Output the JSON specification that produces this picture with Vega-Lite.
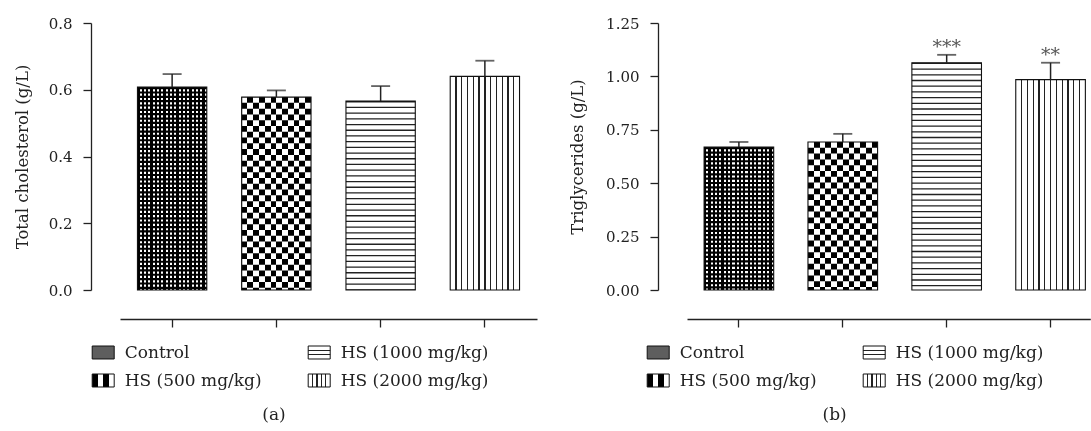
{
  "$schema": "https://vega.github.io/schema/vega-lite/v6.json",
  "padding": {"left": 14, "top": 16, "right": 0, "bottom": 0},
  "config": {
    "font": "DejaVu Serif",
    "view": {"stroke": null},
    "axis": {"labelFont": "DejaVu Serif", "titleFont": "DejaVu Serif", "labelColor": "#222", "titleColor": "#222", "domainColor": "#222", "tickColor": "#222", "domainWidth": 1.3, "tickWidth": 1.3, "tickSize": 8, "grid": false, "labelFontSize": 15, "titleFontSize": 16.5, "titleFontWeight": "normal"},
    "legend": {"labelFont": "DejaVu Serif", "labelFontSize": 17, "labelColor": "#222"},
    "title": {"font": "DejaVu Serif", "fontSize": 17, "fontWeight": "normal", "color": "#222"}
  },
  "datasets": {
    "tc": [
      {"group": "Control", "mean": 0.608, "upper": 0.647, "sig": ""},
      {"group": "HS (500 mg/kg)", "mean": 0.578, "upper": 0.598, "sig": ""},
      {"group": "HS (1000 mg/kg)", "mean": 0.566, "upper": 0.611, "sig": ""},
      {"group": "HS (2000 mg/kg)", "mean": 0.640, "upper": 0.687, "sig": ""}
    ],
    "tg": [
      {"group": "Control", "mean": 0.669, "upper": 0.693, "sig": ""},
      {"group": "HS (500 mg/kg)", "mean": 0.693, "upper": 0.731, "sig": ""},
      {"group": "HS (1000 mg/kg)", "mean": 1.064, "upper": 1.101, "sig": "***"},
      {"group": "HS (2000 mg/kg)", "mean": 0.985, "upper": 1.064, "sig": "**"}
    ]
  },
  "spacing": 32,
  "resolve": {"scale": {"fill": "independent", "x": "independent", "y": "independent"}, "legend": {"fill": "independent"}},
  "hconcat": [
    {
      "data": {"name": "tc"},
      "width": 417,
      "height": 267,
      "title": {"text": "(a)", "orient": "bottom", "anchor": "middle", "dx": -54.5, "offset": 18},
      "encoding": {
        "x": {"field": "group", "type": "nominal", "title": null, "sort": ["Control", "HS (500 mg/kg)", "HS (1000 mg/kg)", "HS (2000 mg/kg)"], "scale": {"paddingInner": 0.335, "paddingOuter": 0.1675}, "axis": {"labels": false, "title": null, "offset": 29, "ticks": true, "domain": true}},
        "y": {"field": "mean", "type": "quantitative", "title": "Total cholesterol (g/L)", "scale": {"domain": [0, 0.8], "nice": false, "zero": true}, "axis": {"values": [0, 0.2, 0.4, 0.6, 0.8], "format": ".1f", "offset": 29, "labelPadding": 11, "titlePadding": 18}}
      },
      "layer": [
        {
          "mark": {"type": "bar", "strokeWidth": 0},
          "encoding": {
            "fill": {
              "field": "group", "type": "nominal",
              "scale": {
                "domain": ["Control", "HS (500 mg/kg)", "HS (1000 mg/kg)", "HS (2000 mg/kg)"],
                "range": [
                  "#5e5e5e",
                  {"expr": "{gradient:'linear',stops:[{offset:0,color:'#000'},{offset:0.25,color:'#000'},{offset:0.25,color:'#fff'},{offset:0.5,color:'#fff'},{offset:0.5,color:'#000'},{offset:0.75,color:'#000'},{offset:0.75,color:'#fff'},{offset:1,color:'#fff'}]}"},
                  {"expr": "{gradient:'linear',x1:0,y1:0,x2:0,y2:1,stops:[{offset:0,color:'#fff'},{offset:0.3,color:'#fff'},{offset:0.3,color:'#222'},{offset:0.4,color:'#222'},{offset:0.4,color:'#fff'},{offset:0.6,color:'#fff'},{offset:0.6,color:'#222'},{offset:0.7,color:'#222'},{offset:0.7,color:'#fff'},{offset:1,color:'#fff'}]}"},
                  {"expr": "{gradient:'linear',stops:[{offset:0,color:'#fff'},{offset:0.17,color:'#fff'},{offset:0.17,color:'#222'},{offset:0.23,color:'#222'},{offset:0.23,color:'#fff'},{offset:0.37,color:'#fff'},{offset:0.37,color:'#222'},{offset:0.43,color:'#222'},{offset:0.43,color:'#fff'},{offset:0.57,color:'#fff'},{offset:0.57,color:'#222'},{offset:0.63,color:'#222'},{offset:0.63,color:'#fff'},{offset:0.77,color:'#fff'},{offset:0.77,color:'#222'},{offset:0.83,color:'#222'},{offset:0.83,color:'#fff'},{offset:1,color:'#fff'}]}"}
                ]
              },
              "legend": {
                "orient": "none", "legendX": -28.3, "legendY": 318, "columns": 2, "title": null,
                "symbolType": "M-1,-0.59H1V0.59H-1Z", "symbolSize": 484, "labelFontSize": 17, "labelOffset": 10,
                "columnPadding": 44, "rowPadding": 8, "padding": 0, "labelLimit": 400,
                "symbolStrokeColor": "#111", "symbolStrokeWidth": 1
              }
            }
          }
        },
        {"transform": [{"filter": "datum.group === 'Control'"}], "mark": {"type": "bar", "strokeWidth": 0, "fill": {"expr": "{gradient:'linear',stops:[{offset:0,color:'#000'},{offset:0.03125,color:'#000'},{offset:0.03125,color:'#fff'},{offset:0.0625,color:'#fff'},{offset:0.0625,color:'#000'},{offset:0.09375,color:'#000'},{offset:0.09375,color:'#fff'},{offset:0.125,color:'#fff'},{offset:0.125,color:'#000'},{offset:0.15625,color:'#000'},{offset:0.15625,color:'#fff'},{offset:0.1875,color:'#fff'},{offset:0.1875,color:'#000'},{offset:0.21875,color:'#000'},{offset:0.21875,color:'#fff'},{offset:0.25,color:'#fff'},{offset:0.25,color:'#000'},{offset:0.28125,color:'#000'},{offset:0.28125,color:'#fff'},{offset:0.3125,color:'#fff'},{offset:0.3125,color:'#000'},{offset:0.34375,color:'#000'},{offset:0.34375,color:'#fff'},{offset:0.375,color:'#fff'},{offset:0.375,color:'#000'},{offset:0.40625,color:'#000'},{offset:0.40625,color:'#fff'},{offset:0.4375,color:'#fff'},{offset:0.4375,color:'#000'},{offset:0.46875,color:'#000'},{offset:0.46875,color:'#fff'},{offset:0.5,color:'#fff'},{offset:0.5,color:'#000'},{offset:0.53125,color:'#000'},{offset:0.53125,color:'#fff'},{offset:0.5625,color:'#fff'},{offset:0.5625,color:'#000'},{offset:0.59375,color:'#000'},{offset:0.59375,color:'#fff'},{offset:0.625,color:'#fff'},{offset:0.625,color:'#000'},{offset:0.65625,color:'#000'},{offset:0.65625,color:'#fff'},{offset:0.6875,color:'#fff'},{offset:0.6875,color:'#000'},{offset:0.71875,color:'#000'},{offset:0.71875,color:'#fff'},{offset:0.75,color:'#fff'},{offset:0.75,color:'#000'},{offset:0.78125,color:'#000'},{offset:0.78125,color:'#fff'},{offset:0.8125,color:'#fff'},{offset:0.8125,color:'#000'},{offset:0.84375,color:'#000'},{offset:0.84375,color:'#fff'},{offset:0.875,color:'#fff'},{offset:0.875,color:'#000'},{offset:0.90625,color:'#000'},{offset:0.90625,color:'#fff'},{offset:0.9375,color:'#fff'},{offset:0.9375,color:'#000'},{offset:0.96875,color:'#000'},{offset:0.96875,color:'#fff'},{offset:1,color:'#fff'}]}"}}},
        {"transform": [{"filter": "datum.group === 'HS (500 mg/kg)'"}], "mark": {"type": "bar", "strokeWidth": 0, "fill": {"expr": "{gradient:'linear',stops:[{offset:0,color:'#000'},{offset:0.08333,color:'#000'},{offset:0.08333,color:'#fff'},{offset:0.16667,color:'#fff'},{offset:0.16667,color:'#000'},{offset:0.25,color:'#000'},{offset:0.25,color:'#fff'},{offset:0.33333,color:'#fff'},{offset:0.33333,color:'#000'},{offset:0.41667,color:'#000'},{offset:0.41667,color:'#fff'},{offset:0.5,color:'#fff'},{offset:0.5,color:'#000'},{offset:0.58333,color:'#000'},{offset:0.58333,color:'#fff'},{offset:0.66667,color:'#fff'},{offset:0.66667,color:'#000'},{offset:0.75,color:'#000'},{offset:0.75,color:'#fff'},{offset:0.83333,color:'#fff'},{offset:0.83333,color:'#000'},{offset:0.91667,color:'#000'},{offset:0.91667,color:'#fff'},{offset:1,color:'#fff'}]}"}}},
        {"transform": [{"filter": "datum.group === 'HS (1000 mg/kg)'"}], "mark": {"type": "bar", "strokeWidth": 0, "fill": "#fff"}},
        {"transform": [{"filter": "datum.group === 'HS (2000 mg/kg)'"}], "mark": {"type": "bar", "strokeWidth": 0, "fill": {"expr": "{gradient:'linear',stops:[{offset:0,color:'#fff'},{offset:0.0738,color:'#fff'},{offset:0.0738,color:'#222'},{offset:0.0928,color:'#222'},{offset:0.0928,color:'#fff'},{offset:0.1572,color:'#fff'},{offset:0.1572,color:'#222'},{offset:0.1762,color:'#222'},{offset:0.1762,color:'#fff'},{offset:0.2405,color:'#fff'},{offset:0.2405,color:'#222'},{offset:0.2595,color:'#222'},{offset:0.2595,color:'#fff'},{offset:0.3238,color:'#fff'},{offset:0.3238,color:'#222'},{offset:0.3428,color:'#222'},{offset:0.3428,color:'#fff'},{offset:0.4072,color:'#fff'},{offset:0.4072,color:'#222'},{offset:0.4262,color:'#222'},{offset:0.4262,color:'#fff'},{offset:0.4905,color:'#fff'},{offset:0.4905,color:'#222'},{offset:0.5095,color:'#222'},{offset:0.5095,color:'#fff'},{offset:0.5738,color:'#fff'},{offset:0.5738,color:'#222'},{offset:0.5928,color:'#222'},{offset:0.5928,color:'#fff'},{offset:0.6572,color:'#fff'},{offset:0.6572,color:'#222'},{offset:0.6762,color:'#222'},{offset:0.6762,color:'#fff'},{offset:0.7405,color:'#fff'},{offset:0.7405,color:'#222'},{offset:0.7595,color:'#222'},{offset:0.7595,color:'#fff'},{offset:0.8238,color:'#fff'},{offset:0.8238,color:'#222'},{offset:0.8428,color:'#222'},{offset:0.8428,color:'#fff'},{offset:0.9072,color:'#fff'},{offset:0.9072,color:'#222'},{offset:0.9262,color:'#222'},{offset:0.9262,color:'#fff'},{offset:1,color:'#fff'}]}"}}},
        {"transform": [{"filter": "datum.group === 'Control'"}], "mark": {"type": "rule", "strokeWidth": 69.33, "strokeDash": [2.17, 2.17], "color": "#000"}, "encoding": {"y2": {"datum": 0}}},
        {"transform": [{"filter": "datum.group === 'HS (500 mg/kg)'"}], "mark": {"type": "rule", "strokeWidth": 69.33, "strokeDash": [5.78, 5.78], "color": "#fff", "blend": "difference"}, "encoding": {"y2": {"datum": 0}}},
        {"transform": [{"filter": "datum.group === 'HS (1000 mg/kg)'"}], "mark": {"type": "rule", "strokeWidth": 69.33, "strokeDash": [1.3, 4.4], "color": "#222"}, "encoding": {"y2": {"datum": 0}}},
        {"mark": {"type": "bar", "fill": "transparent", "stroke": "#111", "strokeWidth": 1.1}},
        {"mark": {"type": "rule", "color": "#222", "strokeWidth": 1.5}, "encoding": {"y2": {"field": "upper"}}},
        {"mark": {"type": "tick", "size": 19, "thickness": 1.8, "color": "#222", "orient": "horizontal"}, "encoding": {"y": {"field": "upper", "type": "quantitative", "title": "Total cholesterol (g/L)"}}}
      ]
    },
    {
      "data": {"name": "tg"},
      "width": 403.3,
      "height": 267,
      "title": {"text": "(b)", "orient": "bottom", "anchor": "middle", "dx": -54, "offset": 18},
      "encoding": {
        "x": {"field": "group", "type": "nominal", "title": null, "sort": ["Control", "HS (500 mg/kg)", "HS (1000 mg/kg)", "HS (2000 mg/kg)"], "scale": {"paddingInner": 0.33, "paddingOuter": 0.106, "align": 0.776}, "axis": {"labels": false, "title": null, "offset": 29, "ticks": true, "domain": true}},
        "y": {"field": "mean", "type": "quantitative", "title": "Triglycerides (g/L)", "scale": {"domain": [0, 1.25], "nice": false, "zero": true}, "axis": {"values": [0, 0.25, 0.5, 0.75, 1, 1.25], "format": ".2f", "offset": 29, "labelPadding": 11, "titlePadding": 20}}
      },
      "layer": [
        {
          "mark": {"type": "bar", "strokeWidth": 0},
          "encoding": {
            "fill": {
              "field": "group", "type": "nominal",
              "scale": {
                "domain": ["Control", "HS (500 mg/kg)", "HS (1000 mg/kg)", "HS (2000 mg/kg)"],
                "range": [
                  "#5e5e5e",
                  {"expr": "{gradient:'linear',stops:[{offset:0,color:'#000'},{offset:0.25,color:'#000'},{offset:0.25,color:'#fff'},{offset:0.5,color:'#fff'},{offset:0.5,color:'#000'},{offset:0.75,color:'#000'},{offset:0.75,color:'#fff'},{offset:1,color:'#fff'}]}"},
                  {"expr": "{gradient:'linear',x1:0,y1:0,x2:0,y2:1,stops:[{offset:0,color:'#fff'},{offset:0.3,color:'#fff'},{offset:0.3,color:'#222'},{offset:0.4,color:'#222'},{offset:0.4,color:'#fff'},{offset:0.6,color:'#fff'},{offset:0.6,color:'#222'},{offset:0.7,color:'#222'},{offset:0.7,color:'#fff'},{offset:1,color:'#fff'}]}"},
                  {"expr": "{gradient:'linear',stops:[{offset:0,color:'#fff'},{offset:0.17,color:'#fff'},{offset:0.17,color:'#222'},{offset:0.23,color:'#222'},{offset:0.23,color:'#fff'},{offset:0.37,color:'#fff'},{offset:0.37,color:'#222'},{offset:0.43,color:'#222'},{offset:0.43,color:'#fff'},{offset:0.57,color:'#fff'},{offset:0.57,color:'#222'},{offset:0.63,color:'#222'},{offset:0.63,color:'#fff'},{offset:0.77,color:'#fff'},{offset:0.77,color:'#222'},{offset:0.83,color:'#222'},{offset:0.83,color:'#fff'},{offset:1,color:'#fff'}]}"}
                ]
              },
              "legend": {
                "orient": "none", "legendX": -40.3, "legendY": 318, "columns": 2, "title": null,
                "symbolType": "M-1,-0.59H1V0.59H-1Z", "symbolSize": 484, "labelFontSize": 17, "labelOffset": 10,
                "columnPadding": 44, "rowPadding": 8, "padding": 0, "labelLimit": 400,
                "symbolStrokeColor": "#111", "symbolStrokeWidth": 1
              }
            }
          }
        },
        {"transform": [{"filter": "datum.group === 'Control'"}], "mark": {"type": "bar", "strokeWidth": 0, "fill": {"expr": "{gradient:'linear',stops:[{offset:0,color:'#000'},{offset:0.03125,color:'#000'},{offset:0.03125,color:'#fff'},{offset:0.0625,color:'#fff'},{offset:0.0625,color:'#000'},{offset:0.09375,color:'#000'},{offset:0.09375,color:'#fff'},{offset:0.125,color:'#fff'},{offset:0.125,color:'#000'},{offset:0.15625,color:'#000'},{offset:0.15625,color:'#fff'},{offset:0.1875,color:'#fff'},{offset:0.1875,color:'#000'},{offset:0.21875,color:'#000'},{offset:0.21875,color:'#fff'},{offset:0.25,color:'#fff'},{offset:0.25,color:'#000'},{offset:0.28125,color:'#000'},{offset:0.28125,color:'#fff'},{offset:0.3125,color:'#fff'},{offset:0.3125,color:'#000'},{offset:0.34375,color:'#000'},{offset:0.34375,color:'#fff'},{offset:0.375,color:'#fff'},{offset:0.375,color:'#000'},{offset:0.40625,color:'#000'},{offset:0.40625,color:'#fff'},{offset:0.4375,color:'#fff'},{offset:0.4375,color:'#000'},{offset:0.46875,color:'#000'},{offset:0.46875,color:'#fff'},{offset:0.5,color:'#fff'},{offset:0.5,color:'#000'},{offset:0.53125,color:'#000'},{offset:0.53125,color:'#fff'},{offset:0.5625,color:'#fff'},{offset:0.5625,color:'#000'},{offset:0.59375,color:'#000'},{offset:0.59375,color:'#fff'},{offset:0.625,color:'#fff'},{offset:0.625,color:'#000'},{offset:0.65625,color:'#000'},{offset:0.65625,color:'#fff'},{offset:0.6875,color:'#fff'},{offset:0.6875,color:'#000'},{offset:0.71875,color:'#000'},{offset:0.71875,color:'#fff'},{offset:0.75,color:'#fff'},{offset:0.75,color:'#000'},{offset:0.78125,color:'#000'},{offset:0.78125,color:'#fff'},{offset:0.8125,color:'#fff'},{offset:0.8125,color:'#000'},{offset:0.84375,color:'#000'},{offset:0.84375,color:'#fff'},{offset:0.875,color:'#fff'},{offset:0.875,color:'#000'},{offset:0.90625,color:'#000'},{offset:0.90625,color:'#fff'},{offset:0.9375,color:'#fff'},{offset:0.9375,color:'#000'},{offset:0.96875,color:'#000'},{offset:0.96875,color:'#fff'},{offset:1,color:'#fff'}]}"}}},
        {"transform": [{"filter": "datum.group === 'HS (500 mg/kg)'"}], "mark": {"type": "bar", "strokeWidth": 0, "fill": {"expr": "{gradient:'linear',stops:[{offset:0,color:'#000'},{offset:0.08333,color:'#000'},{offset:0.08333,color:'#fff'},{offset:0.16667,color:'#fff'},{offset:0.16667,color:'#000'},{offset:0.25,color:'#000'},{offset:0.25,color:'#fff'},{offset:0.33333,color:'#fff'},{offset:0.33333,color:'#000'},{offset:0.41667,color:'#000'},{offset:0.41667,color:'#fff'},{offset:0.5,color:'#fff'},{offset:0.5,color:'#000'},{offset:0.58333,color:'#000'},{offset:0.58333,color:'#fff'},{offset:0.66667,color:'#fff'},{offset:0.66667,color:'#000'},{offset:0.75,color:'#000'},{offset:0.75,color:'#fff'},{offset:0.83333,color:'#fff'},{offset:0.83333,color:'#000'},{offset:0.91667,color:'#000'},{offset:0.91667,color:'#fff'},{offset:1,color:'#fff'}]}"}}},
        {"transform": [{"filter": "datum.group === 'HS (1000 mg/kg)'"}], "mark": {"type": "bar", "strokeWidth": 0, "fill": "#fff"}},
        {"transform": [{"filter": "datum.group === 'HS (2000 mg/kg)'"}], "mark": {"type": "bar", "strokeWidth": 0, "fill": {"expr": "{gradient:'linear',stops:[{offset:0,color:'#fff'},{offset:0.0738,color:'#fff'},{offset:0.0738,color:'#222'},{offset:0.0928,color:'#222'},{offset:0.0928,color:'#fff'},{offset:0.1572,color:'#fff'},{offset:0.1572,color:'#222'},{offset:0.1762,color:'#222'},{offset:0.1762,color:'#fff'},{offset:0.2405,color:'#fff'},{offset:0.2405,color:'#222'},{offset:0.2595,color:'#222'},{offset:0.2595,color:'#fff'},{offset:0.3238,color:'#fff'},{offset:0.3238,color:'#222'},{offset:0.3428,color:'#222'},{offset:0.3428,color:'#fff'},{offset:0.4072,color:'#fff'},{offset:0.4072,color:'#222'},{offset:0.4262,color:'#222'},{offset:0.4262,color:'#fff'},{offset:0.4905,color:'#fff'},{offset:0.4905,color:'#222'},{offset:0.5095,color:'#222'},{offset:0.5095,color:'#fff'},{offset:0.5738,color:'#fff'},{offset:0.5738,color:'#222'},{offset:0.5928,color:'#222'},{offset:0.5928,color:'#fff'},{offset:0.6572,color:'#fff'},{offset:0.6572,color:'#222'},{offset:0.6762,color:'#222'},{offset:0.6762,color:'#fff'},{offset:0.7405,color:'#fff'},{offset:0.7405,color:'#222'},{offset:0.7595,color:'#222'},{offset:0.7595,color:'#fff'},{offset:0.8238,color:'#fff'},{offset:0.8238,color:'#222'},{offset:0.8428,color:'#222'},{offset:0.8428,color:'#fff'},{offset:0.9072,color:'#fff'},{offset:0.9072,color:'#222'},{offset:0.9262,color:'#222'},{offset:0.9262,color:'#fff'},{offset:1,color:'#fff'}]}"}}},
        {"transform": [{"filter": "datum.group === 'Control'"}], "mark": {"type": "rule", "strokeWidth": 69.6, "strokeDash": [2.175, 2.175], "color": "#000"}, "encoding": {"y2": {"datum": 0}}},
        {"transform": [{"filter": "datum.group === 'HS (500 mg/kg)'"}], "mark": {"type": "rule", "strokeWidth": 69.6, "strokeDash": [5.8, 5.8], "color": "#fff", "blend": "difference"}, "encoding": {"y2": {"datum": 0}}},
        {"transform": [{"filter": "datum.group === 'HS (1000 mg/kg)'"}], "mark": {"type": "rule", "strokeWidth": 69.6, "strokeDash": [1.3, 4.4], "color": "#222"}, "encoding": {"y2": {"datum": 0}}},
        {"mark": {"type": "bar", "fill": "transparent", "stroke": "#111", "strokeWidth": 1.1}},
        {"mark": {"type": "rule", "color": "#222", "strokeWidth": 1.5}, "encoding": {"y2": {"field": "upper"}}},
        {"mark": {"type": "tick", "size": 19, "thickness": 1.8, "color": "#222", "orient": "horizontal"}, "encoding": {"y": {"field": "upper", "type": "quantitative", "title": "Triglycerides (g/L)"}}},
        {"mark": {"type": "text", "fontSize": 19, "color": "#555", "baseline": "alphabetic", "dy": -1.5, "font": "DejaVu Serif"}, "encoding": {"y": {"field": "upper", "type": "quantitative", "title": "Triglycerides (g/L)"}, "text": {"field": "sig"}}}
      ]
    }
  ]
}
